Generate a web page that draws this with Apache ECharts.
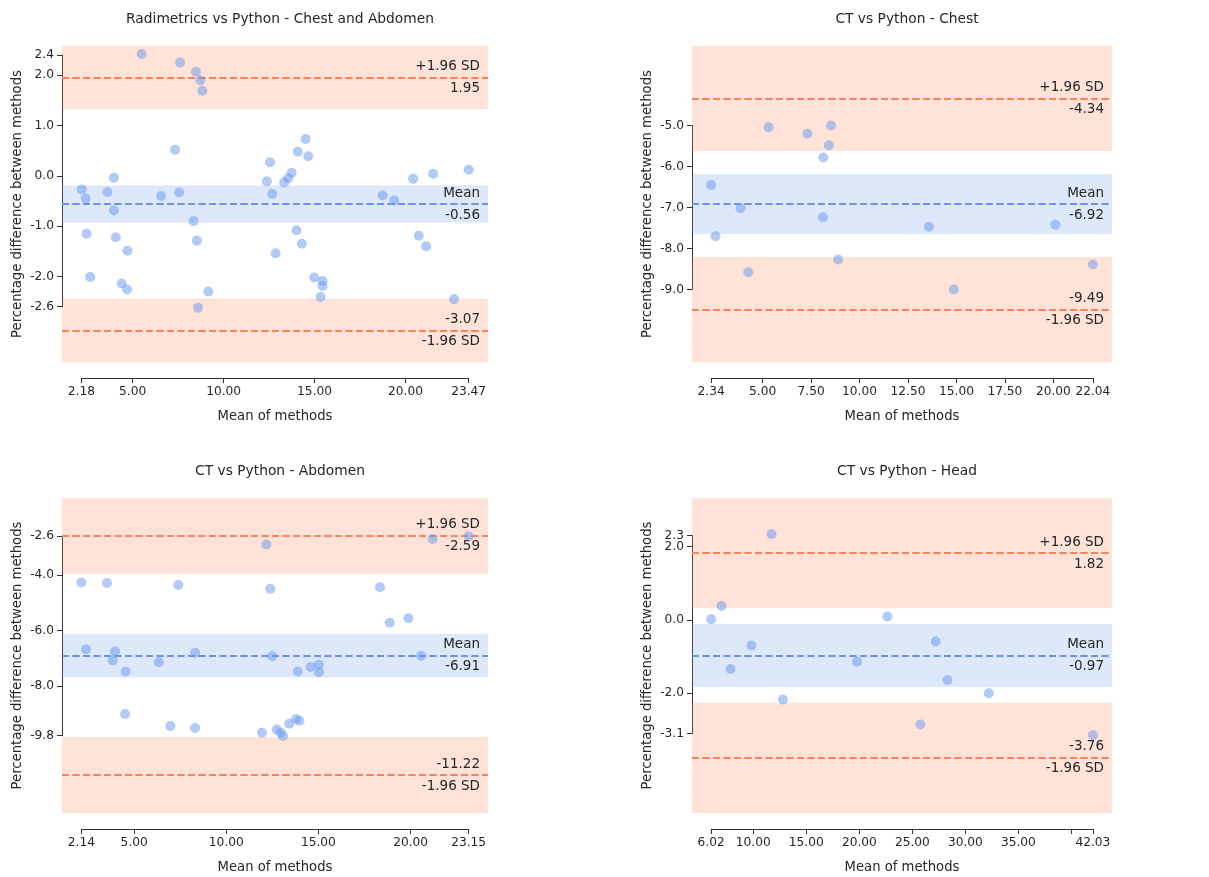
<!DOCTYPE html>
<html>
<head>
<meta charset="utf-8">
<title>Bland-Altman plots</title>
<script src="https://cdn.jsdelivr.net/npm/echarts@6/dist/echarts.min.js"></script>
<style>
  html, body { margin: 0; padding: 0; background: #fff; }
  #chart { width: 1209px; height: 877px; }
</style>
</head>
<body>
<div id="chart"></div>
<script>
const titles = [
  'Radimetrics vs Python - Chest and Abdomen',
  'CT vs Python - Chest',
  'CT vs Python - Abdomen',
  'CT vs Python - Head'
];

// mean of methods (x) and percentage difference (y)
const chestAbdX = [5.49, 7.60, 8.48, 8.72, 8.83, 7.33, 7.56, 2.20, 2.42, 2.47, 2.66, 3.61, 3.97, 3.97, 4.07, 4.71,
  4.40, 4.69, 6.56, 8.35, 8.53, 9.16, 8.59, 12.38, 12.55, 12.67, 12.86, 13.33, 13.55, 13.74, 14.08, 14.51,
  14.65, 14.01, 14.30, 14.98, 15.44, 15.44, 15.33, 18.74, 19.38, 20.42, 20.73, 21.14, 21.52, 22.67, 23.47];
const chestAbdY = [2.42, 2.25, 2.07, 1.90, 1.69, 0.52, -0.33, -0.27, -0.45, -1.15, -2.01, -0.32, -0.04, -0.69, -1.22, -1.49,
  -2.14, -2.26, -0.40, -0.90, -1.29, -2.30, -2.62, -0.11, 0.27, -0.36, -1.54, -0.13, -0.05, 0.06, 0.48, 0.73,
  0.39, -1.08, -1.35, -2.02, -2.09, -2.19, -2.41, -0.39, -0.49, -0.06, -1.19, -1.40, 0.04, -2.45, 0.12];

const chestX = [2.34, 2.57, 3.86, 4.26, 5.31, 7.31, 8.53, 8.42, 8.13, 8.11, 8.89, 13.58, 14.86, 20.10, 22.04];
const chestY = [-6.45, -7.70, -7.02, -8.58, -5.04, -5.20, -5.00, -5.48, -5.78, -7.24, -8.27, -7.47, -9.00, -7.42, -8.39];

const abdX = [2.14, 2.39, 3.53, 3.84, 3.97, 4.54, 4.51, 6.34, 6.97, 7.40, 8.31, 8.31, 11.94, 12.18, 12.39, 12.50,
  12.74, 12.95, 13.08, 13.42, 13.79, 13.97, 13.88, 14.58, 15.03, 15.03, 18.34, 18.87, 19.88, 20.57, 21.20, 23.15];
const abdY = [-4.27, -6.68, -4.29, -7.08, -6.76, -7.48, -9.02, -7.15, -9.45, -4.36, -6.81, -9.52, -9.69, -2.90, -4.50, -6.93,
  -9.58, -9.69, -9.81, -9.37, -9.20, -9.26, -7.48, -7.32, -7.24, -7.51, -4.44, -5.72, -5.56, -6.91, -2.70, -2.60];

const headX = [6.02, 7.00, 7.85, 9.83, 11.72, 12.79, 19.78, 22.64, 25.76, 27.20, 28.31, 32.21, 42.03];
const headY = [0.02, 0.38, -1.34, -0.70, 2.34, -2.17, -1.14, 0.09, -2.85, -0.59, -1.64, -2.00, -3.14];

const xValues = [chestAbdX, chestX, abdX, headX];
const yValues = [chestAbdY, chestY, abdY, headY];

// bias, limits of agreement and half-widths of their confidence bands
const means = [-0.56, -6.92, -6.91, -0.97];
const upperLoA = [1.95, -4.34, -2.59, 1.82];
const lowerLoA = [-3.07, -9.49, -11.22, -3.76];
const meanCI = [0.37, 0.73, 0.79, 0.86];
const loaCI = [0.63, 1.28, 1.37, 1.50];

// tick values (first/last are the data extremes, the spines are trimmed to them)
const xTicks = [
  [2.18, 5, 10, 15, 20, 23.47],
  [2.34, 5, 7.5, 10, 12.5, 15, 17.5, 20, 22.04],
  [2.14, 5, 10, 15, 20, 23.15],
  [6.02, 10, 15, 20, 25, 30, 35, 40, 42.03]
];
const xTickLabels = [
  [2.18, 5, 10, 15, 20, 23.47],
  [2.34, 5, 7.5, 10, 12.5, 15, 17.5, 20, 22.04],
  [2.14, 5, 10, 15, 20, 23.15],
  [6.02, 10, 15, 20, 25, 30, 35, 42.03]
];
const yTicks = [
  [-2.6, -2, -1, 0, 1, 2, 2.4],
  [-9, -8, -7, -6, -5],
  [-9.8, -8, -6, -4, -2.6],
  [-3.1, -2, 0, 2, 2.3]
];

const boxes = [
  { left: 62, top: 46, width: 426, height: 316 },
  { left: 692, top: 46, width: 420, height: 316 },
  { left: 62, top: 498, width: 426, height: 315 },
  { left: 692, top: 498, width: 420, height: 315 }
];
const SPINE_OFFSET = 16;
const FONT = 'DejaVu Sans';
const TEXT = '#262626';
const SALMON = 'rgba(255,127,80,0.22)';
const LIGHTBLUE = 'rgba(100,149,237,0.22)';
const CORAL = '#f7845a';
const CORNFLOWER = '#6a94ea';

const grid = [], xAxis = [], yAxis = [], series = [], title = [];

const hiddenAxis = (gi, min, max) => ({ gridIndex: gi, type: 'value', show: false, min, max });
const tickLabel = {
  margin: 8, fontFamily: FONT, fontSize: 12.2, color: TEXT,
  showMinLabel: true, showMaxLabel: true, hideOverlap: false
};

titles.forEach((t, i) => {
  const b = boxes[i];
  const xt = xTicks[i], yt = yTicks[i];
  const x0 = xt[0], x1 = xt[xt.length - 1];
  const y0 = yt[0], y1 = yt[yt.length - 1];
  const pad = (x1 - x0) * 0.05;
  const xmin = x0 - pad, xmax = x1 + pad;
  const ymin = lowerLoA[i] - loaCI[i], ymax = upperLoA[i] + loaCI[i];
  const toPx = v => b.left + (v - xmin) / (xmax - xmin) * b.width;
  const toPy = v => b.top + (ymax - v) / (ymax - ymin) * b.height;

  const g = grid.length;
  // plot area
  grid.push({ left: b.left, top: b.top, width: b.width, height: b.height });
  // bottom spine, trimmed and offset
  grid.push({ left: toPx(x0), top: b.top, width: toPx(x1) - toPx(x0), height: b.height + SPINE_OFFSET });
  // left spine, trimmed
  grid.push({ left: b.left, top: toPy(y1), width: b.width, height: toPy(y0) - toPy(y1) });

  title.push({
    text: t,
    left: b.left + b.width / 2,
    top: b.top - 39,
    textAlign: 'center',
    textStyle: { fontFamily: FONT, fontSize: 13.8, fontWeight: 'normal', color: TEXT }
  });

  const xi = xAxis.length, yi = yAxis.length;
  xAxis.push({
    gridIndex: g, type: 'value', min: xmin, max: xmax,
    axisLine: { show: false }, axisTick: { show: false }, axisLabel: { show: false }, splitLine: { show: false },
    name: 'Mean of methods', nameLocation: 'middle', nameGap: 48,
    nameTextStyle: { fontFamily: FONT, fontSize: 13.2, color: TEXT }
  });
  yAxis.push({
    gridIndex: g, type: 'value', min: ymin, max: ymax,
    axisLine: { show: false }, axisTick: { show: false }, axisLabel: { show: false }, splitLine: { show: false },
    name: 'Percentage difference between methods', nameLocation: 'middle', nameGap: 38,
    nameTextStyle: { fontFamily: FONT, fontSize: 13.2, color: TEXT }
  });

  xAxis.push({
    gridIndex: g + 1, type: 'value', min: x0, max: x1, position: 'bottom',
    axisLine: { show: true, lineStyle: { color: '#333', width: 1 } },
    axisTick: { show: true, length: 5, customValues: xt, lineStyle: { color: '#333' } },
    axisLabel: { ...tickLabel, customValues: xTickLabels[i], formatter: v => v.toFixed(2) },
    splitLine: { show: false }
  });
  yAxis.push(hiddenAxis(g + 1, 0, 1));

  xAxis.push(hiddenAxis(g + 2, 0, 1));
  // spine with inner tick labels
  yAxis.push({
    gridIndex: g + 2, type: 'value', min: y0, max: y1, position: 'left',
    axisLine: { show: true, lineStyle: { color: '#333', width: 1 } },
    axisTick: { show: true, length: 5, customValues: yt, lineStyle: { color: '#333' } },
    axisLabel: { ...tickLabel, customValues: yt.slice(1, -1), formatter: v => v.toFixed(1) },
    splitLine: { show: false }
  });
  // data-extreme labels on their own layer so that close neighbours are not hidden
  yAxis.push({
    gridIndex: g + 2, type: 'value', min: y0, max: y1, position: 'left', offset: 0,
    axisLine: { show: false }, axisTick: { show: false }, splitLine: { show: false },
    axisLabel: { ...tickLabel, customValues: [y0, y1], formatter: v => v.toFixed(1) }
  });

  const lbl = (text, pos) => ({
    show: true, formatter: text, position: pos, distance: [8, 4],
    fontFamily: FONT, fontSize: 13.5, color: TEXT
  });
  const dash = color => ({ color, width: 2, type: [7, 3.5] });

  series.push({
    type: 'line', xAxisIndex: xi, yAxisIndex: yi, data: [], z: 1, silent: true,
    markArea: {
      silent: true,
      data: [
        [{ yAxis: upperLoA[i] - loaCI[i], itemStyle: { color: SALMON } }, { yAxis: upperLoA[i] + loaCI[i] }],
        [{ yAxis: means[i] - meanCI[i], itemStyle: { color: LIGHTBLUE } }, { yAxis: means[i] + meanCI[i] }],
        [{ yAxis: lowerLoA[i] - loaCI[i], itemStyle: { color: SALMON } }, { yAxis: lowerLoA[i] + loaCI[i] }]
      ]
    },
    markLine: {
      silent: true, symbol: 'none', animation: false,
      data: [
        { yAxis: upperLoA[i], lineStyle: dash(CORAL), label: lbl('+1.96 SD', 'insideEndTop') },
        { yAxis: upperLoA[i], lineStyle: dash(CORAL), label: lbl(upperLoA[i].toFixed(2), 'insideEndBottom') },
        { yAxis: means[i], lineStyle: dash(CORNFLOWER), label: lbl('Mean', 'insideEndTop') },
        { yAxis: means[i], lineStyle: dash(CORNFLOWER), label: lbl(means[i].toFixed(2), 'insideEndBottom') },
        { yAxis: lowerLoA[i], lineStyle: dash(CORAL), label: lbl(lowerLoA[i].toFixed(2), 'insideEndTop') },
        { yAxis: lowerLoA[i], lineStyle: dash(CORAL), label: lbl('-1.96 SD', 'insideEndBottom') }
      ]
    }
  });

  series.push({
    type: 'scatter', xAxisIndex: xi, yAxisIndex: yi, z: 5, silent: true,
    symbolSize: 10,
    itemStyle: { color: 'rgba(100,149,237,0.62)' },
    data: xValues[i].map((x, k) => [x, yValues[i][k]])
  });
});

const chart = echarts.init(document.getElementById('chart'));
chart.setOption({
  backgroundColor: '#fff',
  animation: false,
  title, grid, xAxis, yAxis, series
});
</script>
</body>
</html>
